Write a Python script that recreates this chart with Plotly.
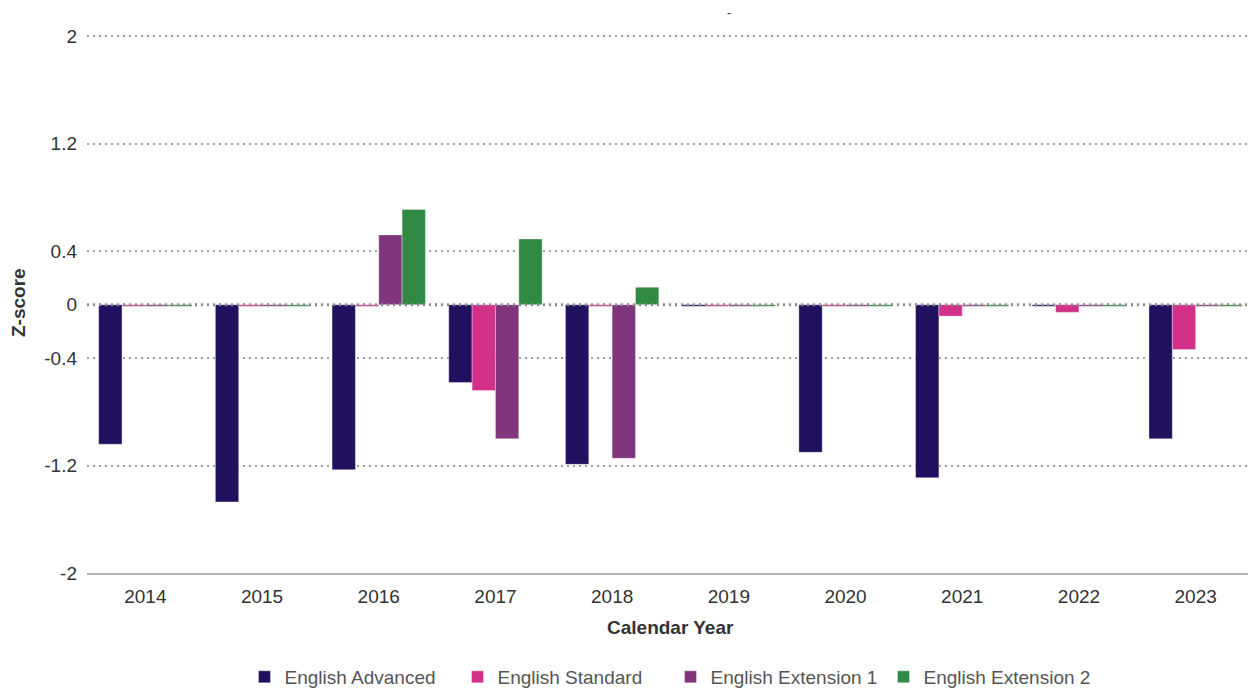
import plotly.graph_objects as go

years = ["2014", "2015", "2016", "2017", "2018", "2019", "2020", "2021", "2022", "2023"]
english_advanced = [-1.04, -1.47, -1.23, -0.58, -1.19, -0.012, -1.10, -1.29, -0.012, -1.00]
english_standard = [-0.012, -0.012, -0.012, -0.64, -0.012, -0.012, -0.012, -0.085, -0.057, -0.335]
english_extension_1 = [-0.012, -0.012, 0.52, -1.00, -1.145, -0.012, -0.012, -0.012, -0.012, -0.012]
english_extension_2 = [-0.012, -0.012, 0.71, 0.49, 0.13, -0.012, -0.012, -0.012, -0.012, -0.012]

series = [
    ("English Advanced", english_advanced, "#20105e"),
    ("English Standard", english_standard, "#d3308a"),
    ("English Extension 1", english_extension_1, "#80357c"),
    ("English Extension 2", english_extension_2, "#318a43"),
]

y_ticks = [-2, -1.2, -0.4, 0, 0.4, 1.2, 2]
y_tick_text = ["-2", "-1.2", "-0.4", "0", "0.4", "1.2", "2"]

fig = go.Figure()
for name, vals, color in series:
    fig.add_trace(go.Bar(
        x=years, y=vals, name=name,
        marker=dict(color=color, line=dict(color="rgba(255,255,255,0.6)", width=0.6)),
    ))

font_family = "Liberation Sans, Arial, Helvetica, sans-serif"

# page has an 8px body margin, so the figure is sized to fit the window
W, H = 1248, 685

fig.update_layout(
    width=W, height=H,
    paper_bgcolor="white", plot_bgcolor="white",
    margin=dict(l=79, r=2, t=25, b=120, autoexpand=False),
    barmode="group", bargap=0.2, bargroupgap=0,
    font=dict(family=font_family, size=19, color="#333333"),
    showlegend=True,
    legend=dict(
        orientation="h", xref="paper", x=0.5, xanchor="center",
        yref="container", y=16 / H, yanchor="middle",
        font=dict(size=19, color="#555555"), itemwidth=30, traceorder="normal",
        entrywidth=168,
    ),
    xaxis=dict(
        automargin=False,
        showline=True, linecolor="#b3b3b3", linewidth=2,
        showgrid=False, ticks="", ticklabelstandoff=5,
        tickfont=dict(size=19, color="#333333"),
    ),
    yaxis=dict(
        automargin=False,
        range=[-2, 2.025], tickvals=y_ticks, ticktext=y_tick_text,
        showgrid=True, gridcolor="#a0a0a0", gridwidth=2, griddash="2px,4px",
        zeroline=False, showline=False, ticks="", ticklabelstandoff=9,
        tickfont=dict(size=19, color="#333333"),
    ),
    annotations=[
        dict(text="<b>Calendar Year</b>", xref="paper", yref="paper", x=0.5, y=0,
             xanchor="center", yanchor="middle", yshift=-54, showarrow=False,
             font=dict(size=19, color="#333333")),
        dict(text="<b>Z-score</b>", xref="paper", yref="paper", x=0, y=0.5,
             xanchor="center", yanchor="middle", xshift=-69, textangle=-90,
             showarrow=False, font=dict(size=19, color="#333333")),
        dict(text="-", xref="paper", yref="paper", x=(729 - 87) / 1167, y=1,
             xanchor="center", yanchor="middle", yshift=20, showarrow=False,
             font=dict(size=12, color="#333333")),
    ],
)

fig.add_shape(
    type="line", xref="paper", yref="y", x0=0, x1=1, y0=0, y1=0,
    line=dict(color="#8a8a8a", width=3, dash="2px,4px"), layer="above",
)

fig.write_html("out.html")
